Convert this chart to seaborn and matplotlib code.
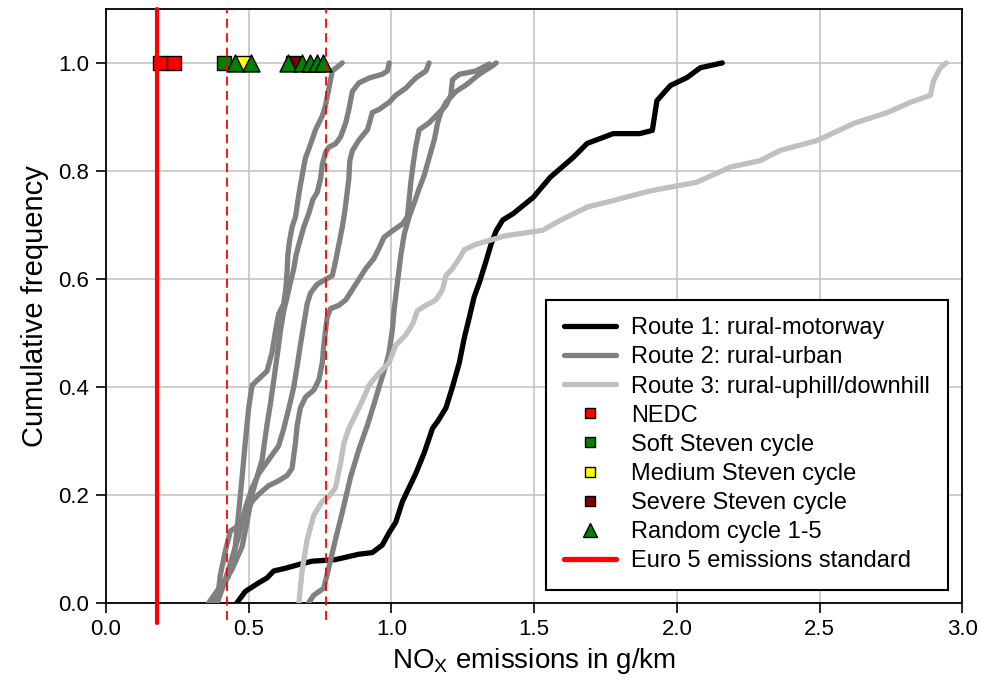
import pandas as pd
import numpy as np
import matplotlib
matplotlib.use("Agg")
import matplotlib.pyplot as plt
from matplotlib.lines import Line2D
import seaborn as sns

sns.set_theme(style="white")
plt.rcParams['font.family'] = ['Liberation Sans', 'DejaVu Sans']
plt.rcParams['mathtext.fontset'] = 'custom'
plt.rcParams['mathtext.rm'] = 'Liberation Sans'
plt.rcParams['text.color'] = 'black'
plt.rcParams['axes.labelcolor'] = 'black'
plt.rcParams['xtick.color'] = 'black'
plt.rcParams['ytick.color'] = 'black'

# Route 1: rural-motorway (one run)
route1_x = [0.459, 0.488, 0.535, 0.564, 0.588, 0.629, 0.676, 0.722, 0.804, 0.886, 0.933, 0.968,
            0.992, 1.015, 1.039, 1.056, 1.085, 1.115, 1.144, 1.162, 1.191, 1.214, 1.238, 1.255,
            1.273, 1.290, 1.308, 1.331, 1.349, 1.367, 1.390, 1.427, 1.497, 1.556, 1.637, 1.686,
            1.777, 1.870, 1.914, 1.930, 1.977, 2.036, 2.082, 2.159]
route1_y = [0.0, 0.021, 0.037, 0.046, 0.059, 0.064, 0.071, 0.077, 0.080, 0.090, 0.093, 0.107,
            0.130, 0.149, 0.188, 0.207, 0.239, 0.278, 0.323, 0.336, 0.361, 0.400, 0.445, 0.490,
            0.529, 0.567, 0.593, 0.632, 0.664, 0.689, 0.709, 0.721, 0.751, 0.788, 0.825, 0.851,
            0.869, 0.869, 0.875, 0.930, 0.958, 0.973, 0.991, 1.0]

# Route 2: rural-urban (five runs)
route2a_x = [0.37, 0.40, 0.43, 0.453, 0.465, 0.477, 0.488, 0.500, 0.512, 0.564, 0.582, 0.594,
             0.605, 0.623, 0.631, 0.635, 0.637, 0.643, 0.652, 0.664, 0.673, 0.681, 0.690, 0.699,
             0.717, 0.734, 0.758, 0.769, 0.781, 0.793, 0.828]
route2a_y = [0.0, 0.02, 0.05, 0.104, 0.168, 0.233, 0.297, 0.361, 0.403, 0.429, 0.464, 0.503,
             0.535, 0.554, 0.586, 0.619, 0.644, 0.670, 0.696, 0.715, 0.747, 0.773, 0.799, 0.824,
             0.850, 0.876, 0.902, 0.921, 0.953, 0.985, 1.0]

route2b_x = [0.36, 0.40, 0.44, 0.477, 0.494, 0.512, 0.529, 0.547, 0.564, 0.576, 0.588, 0.600,
             0.611, 0.623, 0.635, 0.646, 0.658, 0.666, 0.676, 0.693, 0.711, 0.725, 0.740, 0.752,
             0.758, 0.769, 0.781, 0.804, 0.822, 0.840, 0.851, 0.863, 0.886, 0.922, 0.968, 0.986,
             0.992]
route2b_y = [0.0, 0.03, 0.06, 0.104, 0.149, 0.201, 0.233, 0.265, 0.329, 0.368, 0.413, 0.458,
             0.503, 0.541, 0.567, 0.593, 0.619, 0.644, 0.664, 0.696, 0.722, 0.747, 0.760, 0.786,
             0.812, 0.834, 0.844, 0.850, 0.863, 0.889, 0.914, 0.947, 0.963, 0.972, 0.979, 0.985,
             1.0]

route2c_x = [0.39, 0.41, 0.44, 0.465, 0.488, 0.512, 0.535, 0.570, 0.605, 0.623, 0.641, 0.658,
             0.670, 0.681, 0.693, 0.705, 0.717, 0.740, 0.769, 0.793, 0.804, 0.816, 0.828, 0.836,
             0.845, 0.851, 0.854, 0.863, 0.886, 0.916, 0.933, 0.957, 0.992, 1.015, 1.050, 1.085,
             1.121, 1.132]
route2c_y = [0.0, 0.03, 0.08, 0.123, 0.175, 0.213, 0.239, 0.265, 0.291, 0.323, 0.361, 0.400,
             0.439, 0.477, 0.516, 0.554, 0.574, 0.590, 0.599, 0.606, 0.632, 0.664, 0.696, 0.722,
             0.760, 0.786, 0.818, 0.837, 0.857, 0.876, 0.908, 0.914, 0.927, 0.940, 0.953, 0.972,
             0.985, 1.0]

route2d_x = [0.39, 0.40, 0.42, 0.436, 0.465, 0.488, 0.512, 0.535, 0.570, 0.605, 0.635, 0.652,
             0.664, 0.670, 0.681, 0.699, 0.728, 0.746, 0.758, 0.763, 0.769, 0.775, 0.787, 0.816,
             0.840, 0.863, 0.886, 0.910, 0.939, 0.957, 0.974, 1.004, 1.039, 1.056, 1.062, 1.068,
             1.076, 1.085, 1.097, 1.132, 1.167, 1.191, 1.208, 1.214, 1.238, 1.296, 1.343]
route2d_y = [0.0, 0.05, 0.10, 0.133, 0.143, 0.162, 0.188, 0.201, 0.217, 0.226, 0.236, 0.249,
             0.297, 0.329, 0.361, 0.381, 0.394, 0.413, 0.445, 0.477, 0.503, 0.529, 0.545, 0.551,
             0.561, 0.580, 0.599, 0.619, 0.638, 0.657, 0.677, 0.689, 0.702, 0.715, 0.747, 0.779,
             0.812, 0.844, 0.876, 0.889, 0.908, 0.921, 0.940, 0.969, 0.979, 0.985, 0.998]

route2e_x = [0.71, 0.728, 0.763, 0.781, 0.804, 0.828, 0.857, 0.886, 0.916, 0.939, 0.957, 0.980,
             0.992, 1.004, 1.009, 1.021, 1.033, 1.045, 1.062, 1.080, 1.097, 1.115, 1.132, 1.150,
             1.162, 1.173, 1.191, 1.226, 1.261, 1.308, 1.355, 1.367]
route2e_y = [0.0, 0.014, 0.027, 0.066, 0.117, 0.168, 0.233, 0.284, 0.329, 0.368, 0.400, 0.439,
             0.464, 0.509, 0.541, 0.593, 0.644, 0.683, 0.715, 0.741, 0.767, 0.792, 0.824, 0.857,
             0.889, 0.908, 0.927, 0.947, 0.959, 0.979, 0.995, 1.0]

# Route 3: rural-uphill/downhill (one run)
route3_x = [0.676, 0.687, 0.705, 0.728, 0.758, 0.781, 0.804, 0.822, 0.834, 0.851, 0.875, 0.898,
            0.922, 0.957, 0.992, 1.015, 1.050, 1.074, 1.091, 1.121, 1.156, 1.179, 1.191, 1.214,
            1.238, 1.255, 1.296, 1.355, 1.402, 1.530, 1.590, 1.686, 1.777, 1.870, 1.917, 2.070,
            2.187, 2.292, 2.362, 2.490, 2.620, 2.737, 2.818, 2.888, 2.899, 2.923, 2.944]
route3_y = [0.0, 0.059, 0.117, 0.162, 0.188, 0.197, 0.213, 0.259, 0.297, 0.323, 0.349, 0.374,
            0.403, 0.426, 0.445, 0.477, 0.496, 0.516, 0.541, 0.551, 0.561, 0.580, 0.606, 0.619,
            0.638, 0.654, 0.664, 0.673, 0.680, 0.690, 0.708, 0.733, 0.745, 0.758, 0.764, 0.779,
            0.807, 0.819, 0.838, 0.856, 0.888, 0.908, 0.927, 0.940, 0.967, 0.991, 1.0]

# Chassis dynamometer cycles (plotted at cumulative frequency 1.0)
nedc = [0.19, 0.24]
soft_steven = [0.412]
medium_steven = [0.48]
severe_steven = [0.655]
random_cycles = [0.452, 0.508, 0.638, 0.687, 0.715, 0.740, 0.762]

euro5_limit = 0.18
dashed_limits = [0.425, 0.77]

GRAY_DARK = "#808080"
GRAY_LIGHT = "#c0c0c0"
RED = "#ff0000"

def curve_frame(runs):
    rows = []
    for name, xs, ys in runs:
        rows.append(pd.DataFrame({"nox": xs, "freq": ys, "run": name}))
    return pd.concat(rows, ignore_index=True)

r1 = curve_frame([("r1", route1_x, route1_y)])
r2 = curve_frame([("a", route2a_x, route2a_y), ("b", route2b_x, route2b_y),
                  ("c", route2c_x, route2c_y), ("d", route2d_x, route2d_y),
                  ("e", route2e_x, route2e_y)])
r3 = curve_frame([("r3", route3_x, route3_y)])

fig = plt.figure(figsize=(9.81, 6.85), dpi=100)
ax = fig.add_axes([0.108, 0.12, 0.873, 0.867])

line_kw = dict(estimator=None, sort=False, legend=False, linewidth=3.8,
               solid_capstyle="round", solid_joinstyle="round")
sns.lineplot(data=r1, x="nox", y="freq", units="run", color="black", ax=ax, zorder=3, **line_kw)
sns.lineplot(data=r2, x="nox", y="freq", units="run", color=GRAY_DARK, ax=ax, zorder=3, **line_kw)
sns.lineplot(data=r3, x="nox", y="freq", units="run", color=GRAY_LIGHT, ax=ax, zorder=3, **line_kw)

# cycle markers
def marker_row(xs, marker, color, size):
    sns.scatterplot(x=xs, y=[1.0] * len(xs), marker=marker, color=color, s=size,
                    edgecolor="black", linewidth=1.0, ax=ax, zorder=5, legend=False)

marker_row(nedc, "s", RED, 90)
marker_row(soft_steven, "s", "#008000", 90)
marker_row(medium_steven, "s", "#ffff00", 90)
marker_row(severe_steven, "s", "#800000", 90)
marker_row(random_cycles, "^", "#008000", 150)

# emission limits
ax.plot([euro5_limit, euro5_limit], [-0.037, 1.1], color=RED, lw=3, zorder=6, clip_on=False)
for xv in dashed_limits:
    ax.plot([xv, xv], [-0.032, 1.1], color=RED, lw=1.3, ls=(0, (5, 3)), zorder=6, clip_on=False)

ax.set_xlim(0, 3.0)
ax.set_ylim(0, 1.1)
ax.set_xticks(np.arange(0, 3.01, 0.5))
ax.set_yticks(np.arange(0, 1.01, 0.2))
ax.xaxis.set_major_formatter(matplotlib.ticker.FormatStrFormatter("%.1f"))
ax.yaxis.set_major_formatter(matplotlib.ticker.FormatStrFormatter("%.1f"))
ax.grid(True, color=GRAY_LIGHT, lw=1.1)
ax.set_axisbelow(True)
ax.tick_params(axis="both", direction="out", length=7, width=1.2, labelsize=16,
               colors="black", bottom=True, left=True, pad=5)
for sp in ax.spines.values():
    sp.set_color("black")
    sp.set_linewidth(1.3)

ax.set_xlabel(r"NO$_\mathregular{X}$ emissions in g/km", fontsize=20, labelpad=4)
ax.set_ylabel("Cumulative frequency", fontsize=21, labelpad=7)

handles = [
    Line2D([], [], color="black", lw=3.8, solid_capstyle="round"),
    Line2D([], [], color=GRAY_DARK, lw=3.8, solid_capstyle="round"),
    Line2D([], [], color=GRAY_LIGHT, lw=3.8, solid_capstyle="round"),
    Line2D([], [], ls="", marker="s", ms=7.5, mfc=RED, mec="black"),
    Line2D([], [], ls="", marker="s", ms=7.5, mfc="#008000", mec="black"),
    Line2D([], [], ls="", marker="s", ms=7.5, mfc="#ffff00", mec="black"),
    Line2D([], [], ls="", marker="s", ms=7.5, mfc="#800000", mec="black"),
    Line2D([], [], ls="", marker="^", ms=10, mfc="#008000", mec="black"),
    Line2D([], [], color=RED, lw=3.8, solid_capstyle="round"),
]
labels = ["Route 1: rural-motorway", "Route 2: rural-urban", "Route 3: rural-uphill/downhill",
          "NEDC", "Soft Steven cycle", "Medium Steven cycle", "Severe Steven cycle",
          "Random cycle 1-5", "Euro 5 emissions standard"]
leg = ax.legend(handles, labels, loc="lower right", bbox_to_anchor=(0.983, 0.022),
                fontsize=17, frameon=True, fancybox=False, framealpha=1,
                edgecolor="black", handlelength=2.2, labelspacing=0.3,
                borderpad=0.75, handletextpad=0.65, borderaxespad=0)
leg.get_frame().set_linewidth(1.5)
leg.set_zorder(10)

fig.savefig("out.png", dpi=100)
